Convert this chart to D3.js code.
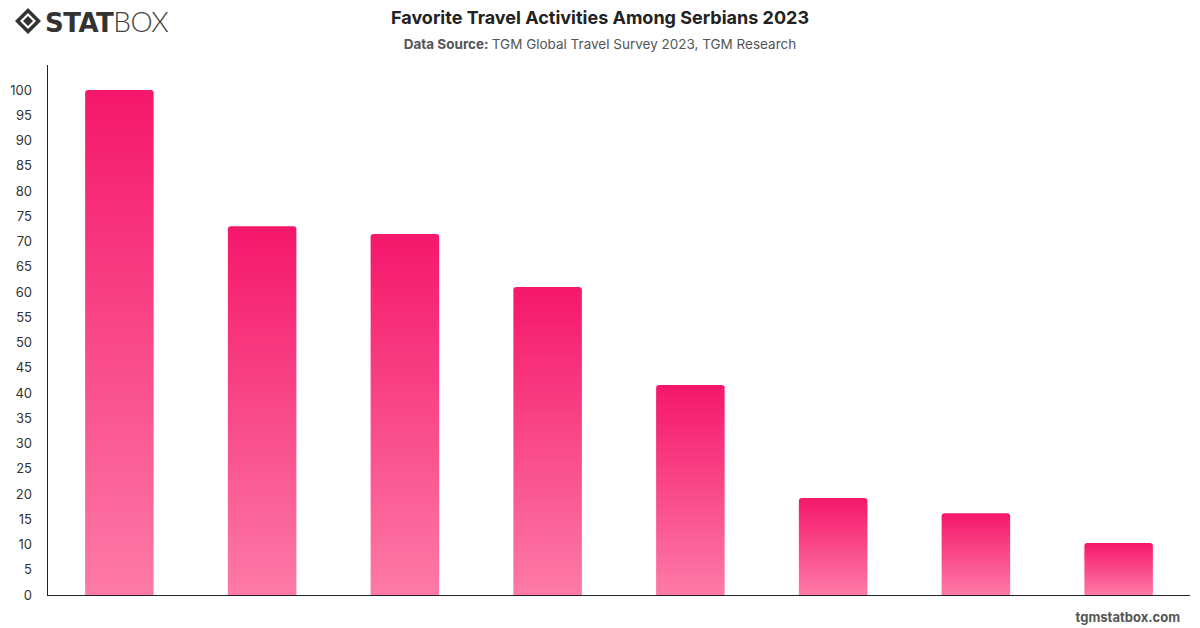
<!DOCTYPE html>
<html>
<head>
<meta charset="utf-8">
<script src="https://cdn.jsdelivr.net/npm/d3@7"></script>
<style>
  body { margin: 0; background: #fff; }
  svg { font-family: Inter, "Noto Sans", sans-serif; }
</style>
</head>
<body>
<svg id="chart" width="1200" height="628"></svg>
<script>
// data (the categories have no visible labels)
var categories = ['A1', 'A2', 'A3', 'A4', 'A5', 'A6', 'A7', 'A8'];
var values = [100, 73, 71.5, 61, 41.6, 19.2, 16.2, 10.3];
var yTicks = d3.range(0, 101, 5);

var svg = d3.select('#chart');
var margin = {left: 48, right: 10, top: 65, bottom: 33};
var width = 1200, height = 628;

// gradient per bar, dark on top, light at the bottom
var defs = svg.append('defs');
var grad = defs.append('linearGradient')
    .attr('id', 'barGrad')
    .attr('x1', 0).attr('y1', 0).attr('x2', 0).attr('y2', 1);
grad.append('stop').attr('offset', '0%').attr('stop-color', '#f5176a');
grad.append('stop').attr('offset', '100%').attr('stop-color', '#fd7aa7');

var x = d3.scaleBand()
    .domain(categories)
    .range([margin.left, width - margin.right])
    .paddingInner(0.52)
    .paddingOuter(0.26);

var y = d3.scaleLinear()
    .domain([0, 100])
    .range([height - margin.bottom, 90]);

// bars with rounded top corners
function barPath(d, i) {
    var x0 = x(categories[i]), w = x.bandwidth();
    var y0 = y(d), yb = y(0), r = 3;
    return 'M' + x0 + ',' + yb +
        'V' + (y0 + r) +
        'Q' + x0 + ',' + y0 + ' ' + (x0 + r) + ',' + y0 +
        'H' + (x0 + w - r) +
        'Q' + (x0 + w) + ',' + y0 + ' ' + (x0 + w) + ',' + (y0 + r) +
        'V' + yb + 'Z';
}

svg.append('g').selectAll('path')
    .data(values)
    .enter().append('path')
    .attr('d', barPath)
    .attr('fill', 'url(#barGrad)');

// y axis
var yAxis = svg.append('g')
    .attr('transform', 'translate(' + margin.left + ',0)')
    .call(d3.axisLeft(y).tickValues(yTicks).tickSize(0).tickPadding(16));
yAxis.select('.domain').remove();
yAxis.selectAll('text')
    .attr('fill', '#333')
    .style('font-size', '13px')
    .style('font-family', 'Inter, "Noto Sans", sans-serif');

svg.append('line')
    .attr('x1', margin.left - 0.5).attr('x2', margin.left - 0.5)
    .attr('y1', margin.top).attr('y2', y(0) + 0.5)
    .attr('stroke', '#222').attr('stroke-width', 1);

svg.append('line')
    .attr('x1', margin.left - 1).attr('x2', width - margin.right)
    .attr('y1', y(0) + 0.5).attr('y2', y(0) + 0.5)
    .attr('stroke', '#222').attr('stroke-width', 1);

// titles
svg.append('text')
    .attr('x', 600).attr('y', 24)
    .attr('text-anchor', 'middle')
    .attr('fill', '#222')
    .style('font-size', '18px')
    .style('font-weight', 'bold')
    .text('Favorite Travel Activities Among Serbians 2023');

var sub = svg.append('text')
    .attr('x', 600).attr('y', 49)
    .attr('text-anchor', 'middle')
    .attr('fill', '#555')
    .style('font-size', '13.5px');
sub.append('tspan').style('font-weight', 'bold').text('Data Source: ');
sub.append('tspan').text('TGM Global Travel Survey 2023, TGM Research');

// watermark
svg.append('text')
    .attr('x', 1180).attr('y', 622)
    .attr('text-anchor', 'end')
    .attr('fill', '#555')
    .style('font-size', '13px')
    .style('font-weight', 'bold')
    .text('tgmstatbox.com');

// logo
var logo = svg.append('g').attr('transform', 'translate(15,8)');
logo.append('path')
    .attr('d', 'M13,0 L26,13 L13,26 L0,13 Z M13,5 L21,13 L13,21 L5,13 Z')
    .attr('fill', '#333').attr('fill-rule', 'evenodd');
logo.append('path')
    .attr('d', 'M13,8 L18,13 L13,18 L8,13 Z')
    .attr('fill', '#333');
var lt = logo.append('text')
    .attr('x', 30).attr('y', 24)
    .attr('fill', '#333')
    .style('font-size', '26px')
    .style('font-family', '"DejaVu Sans", sans-serif');
lt.append('tspan').style('font-weight', 900).attr('letter-spacing', -0.5).text('STAT');
lt.append('tspan').style('font-weight', 300).style('font-family', 'Lato, sans-serif')
    .style('font-size', '28px').attr('fill', '#444').attr('letter-spacing', -0.5).text('BOX');
</script>
</body>
</html>
